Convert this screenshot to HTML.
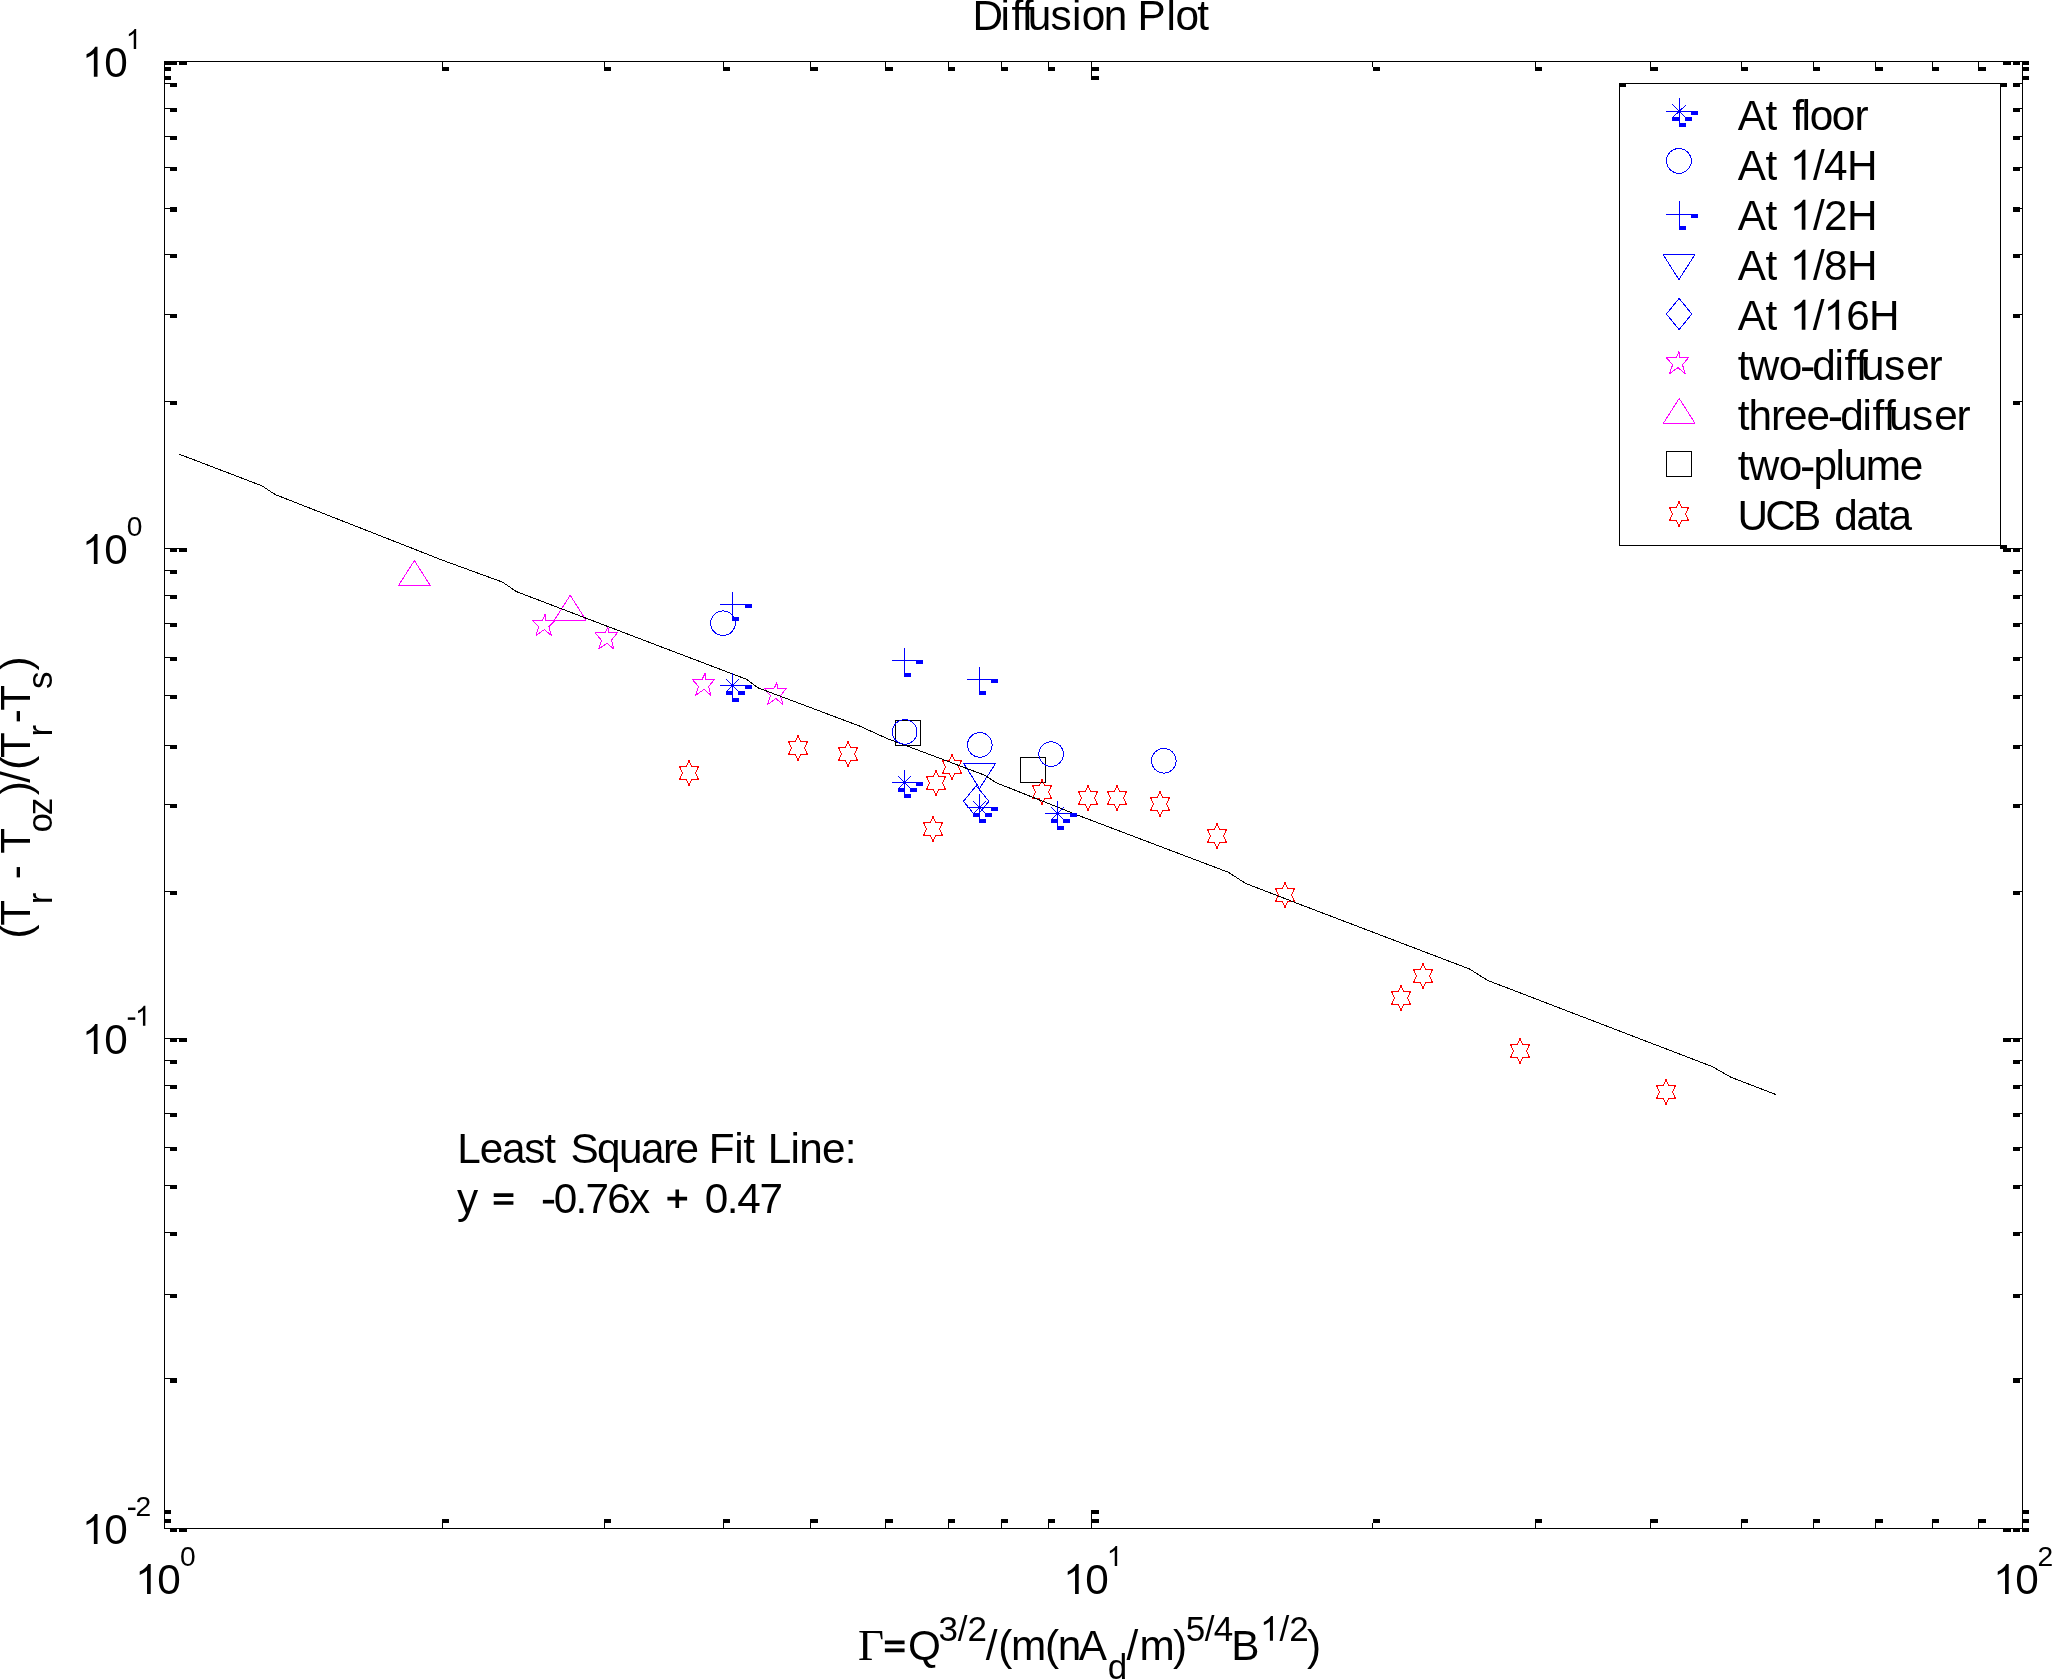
<!DOCTYPE html>
<html><head><meta charset="utf-8"><title>Diffusion Plot</title>
<style>
html,body{margin:0;padding:0;background:#fff;}
body{width:2052px;height:1679px;overflow:hidden;}
svg{display:block;will-change:transform;}
text{font-family:"Liberation Sans",sans-serif;fill:#000;font-kerning:none;font-variant-ligatures:none;white-space:pre;}
.c{shape-rendering:crispEdges;}
.l{fill:none;stroke-width:1;shape-rendering:crispEdges;stroke-linejoin:bevel;}
</style></head><body>
<svg width="2052" height="1679" viewBox="0 0 2052 1679">
<path class="l" stroke="#00f" d="M1672.5 104.5 L1685.5 117.5"/>
<path class="l" stroke="#00f" d="M1686.5 104.5 L1672.5 117.5"/>
<path class="l" stroke="#00f" d="M1678.9 279.6 L1695 254.5 L1663.1 254.5 Z"/>
<path class="l" stroke="#00f" d="M1679.1 298.4 L1691.8 314 L1679.1 329.6 L1666.4 314 Z"/>
<path class="l" stroke="#f0f" d="M1679 351.6 L1679.6 357.5 L1688.6 357.5 L1682.5 364.7 L1685.1 373.6 L1678 367.6 L1669.6 373.6 L1672.6 364.7 L1666.2 357.5 L1676.2 357.5 Z"/>
<path class="l" stroke="#f0f" d="M1679.2 398.4 L1695.1 423.4 L1663.3 423.4 Z"/>
<path class="l" stroke="#000" d="M1666.5 451.5 L1691.5 451.5 L1691.5 476.5 L1666.5 476.5 Z"/>
<path class="l" stroke="#f00" d="M1679 501.5 L1681.5 507.5 L1688.5 507.5 L1685.5 514 L1688.5 520.5 L1681.5 520.5 L1679 526.5 L1676.5 520.5 L1669.5 520.5 L1672.5 514 L1669.5 507.5 L1676.5 507.5 Z"/>
<path class="l" stroke="#00f" d="M726.5 679.5 L738.5 691.5"/>
<path class="l" stroke="#00f" d="M738.5 679.5 L726.5 691.5"/>
<path class="l" stroke="#00f" d="M898.5 776.5 L910.5 788.5"/>
<path class="l" stroke="#00f" d="M910.5 776.5 L898.5 788.5"/>
<path class="l" stroke="#00f" d="M973.5 801.5 L985.5 813.5"/>
<path class="l" stroke="#00f" d="M985.5 801.5 L973.5 813.5"/>
<path class="l" stroke="#00f" d="M1051.5 807.5 L1063.5 819.5"/>
<path class="l" stroke="#00f" d="M1063.5 807.5 L1051.5 819.5"/>
<path class="l" stroke="#00f" d="M979.5 788.5 L995.6 763.4 L963.7 763.4 Z"/>
<path class="l" stroke="#00f" d="M976.2 785.7 L988.9 801.3 L976.2 816.9 L963.5 801.3 Z"/>
<path class="l" stroke="#f0f" d="M545.3 613.6 L545.9 620.4 L554.9 620.4 L548.8 626.7 L551.4 635.6 L544.3 629.6 L535.9 635.6 L538.9 626.7 L532.5 620.4 L542.5 620.4 Z"/>
<path class="l" stroke="#f0f" d="M607.9 627.2 L608.5 632.7 L617.5 632.7 L611.4 640.3 L614 649.2 L606.9 643.2 L598.5 649.2 L601.5 640.3 L595.1 632.7 L605.1 632.7 Z"/>
<path class="l" stroke="#f0f" d="M705 673.4 L705.6 679.3 L714.6 679.3 L708.5 686.5 L711.1 695.4 L704 689.4 L695.6 695.4 L698.6 686.5 L692.2 679.3 L702.2 679.3 Z"/>
<path class="l" stroke="#f0f" d="M776.9 682.6 L777.5 688.2 L786.5 688.2 L780.4 695.7 L783 704.6 L775.9 698.6 L767.5 704.6 L770.5 695.7 L764.1 688.2 L774.1 688.2 Z"/>
<path class="l" stroke="#f0f" d="M414.4 560.6 L430.3 585.6 L398.5 585.6 Z"/>
<path class="l" stroke="#f0f" d="M570.2 595.3 L586.1 620.3 L554.3 620.3 Z"/>
<path class="l" stroke="#000" d="M895.5 720.5 L920.5 720.5 L920.5 745.5 L895.5 745.5 Z"/>
<path class="l" stroke="#000" d="M1020.5 757.5 L1045.5 757.5 L1045.5 782.5 L1020.5 782.5 Z"/>
<path class="l" stroke="#f00" d="M689 760.5 L691.5 766.5 L698.5 766.5 L695.5 773 L698.5 779.5 L691.5 779.5 L689 785.5 L686.5 779.5 L679.5 779.5 L682.5 773 L679.5 766.5 L686.5 766.5 Z"/>
<path class="l" stroke="#f00" d="M798 735.5 L800.5 741.5 L807.5 741.5 L804.5 748 L807.5 754.5 L800.5 754.5 L798 760.5 L795.5 754.5 L788.5 754.5 L791.5 748 L788.5 741.5 L795.5 741.5 Z"/>
<path class="l" stroke="#f00" d="M848 741.5 L850.5 747.5 L857.5 747.5 L854.5 754 L857.5 760.5 L850.5 760.5 L848 766.5 L845.5 760.5 L838.5 760.5 L841.5 754 L838.5 747.5 L845.5 747.5 Z"/>
<path class="l" stroke="#f00" d="M952 754.5 L954.5 760.5 L961.5 760.5 L958.5 767 L961.5 773.5 L954.5 773.5 L952 779.5 L949.5 773.5 L942.5 773.5 L945.5 767 L942.5 760.5 L949.5 760.5 Z"/>
<path class="l" stroke="#f00" d="M936 770.5 L938.5 776.5 L945.5 776.5 L942.5 783 L945.5 789.5 L938.5 789.5 L936 795.5 L933.5 789.5 L926.5 789.5 L929.5 783 L926.5 776.5 L933.5 776.5 Z"/>
<path class="l" stroke="#f00" d="M933 816.5 L935.5 822.5 L942.5 822.5 L939.5 829 L942.5 835.5 L935.5 835.5 L933 841.5 L930.5 835.5 L923.5 835.5 L926.5 829 L923.5 822.5 L930.5 822.5 Z"/>
<path class="l" stroke="#f00" d="M1042 779.5 L1044.5 785.5 L1051.5 785.5 L1048.5 792 L1051.5 798.5 L1044.5 798.5 L1042 804.5 L1039.5 798.5 L1032.5 798.5 L1035.5 792 L1032.5 785.5 L1039.5 785.5 Z"/>
<path class="l" stroke="#f00" d="M1088 785.5 L1090.5 791.5 L1097.5 791.5 L1094.5 798 L1097.5 804.5 L1090.5 804.5 L1088 810.5 L1085.5 804.5 L1078.5 804.5 L1081.5 798 L1078.5 791.5 L1085.5 791.5 Z"/>
<path class="l" stroke="#f00" d="M1117 785.5 L1119.5 791.5 L1126.5 791.5 L1123.5 798 L1126.5 804.5 L1119.5 804.5 L1117 810.5 L1114.5 804.5 L1107.5 804.5 L1110.5 798 L1107.5 791.5 L1114.5 791.5 Z"/>
<path class="l" stroke="#f00" d="M1160 791.5 L1162.5 797.5 L1169.5 797.5 L1166.5 804 L1169.5 810.5 L1162.5 810.5 L1160 816.5 L1157.5 810.5 L1150.5 810.5 L1153.5 804 L1150.5 797.5 L1157.5 797.5 Z"/>
<path class="l" stroke="#f00" d="M1217 823.5 L1219.5 829.5 L1226.5 829.5 L1223.5 836 L1226.5 842.5 L1219.5 842.5 L1217 848.5 L1214.5 842.5 L1207.5 842.5 L1210.5 836 L1207.5 829.5 L1214.5 829.5 Z"/>
<path class="l" stroke="#f00" d="M1285 882.5 L1287.5 888.5 L1294.5 888.5 L1291.5 895 L1294.5 901.5 L1287.5 901.5 L1285 907.5 L1282.5 901.5 L1275.5 901.5 L1278.5 895 L1275.5 888.5 L1282.5 888.5 Z"/>
<path class="l" stroke="#f00" d="M1423 963.5 L1425.5 969.5 L1432.5 969.5 L1429.5 976 L1432.5 982.5 L1425.5 982.5 L1423 988.5 L1420.5 982.5 L1413.5 982.5 L1416.5 976 L1413.5 969.5 L1420.5 969.5 Z"/>
<path class="l" stroke="#f00" d="M1401 985.5 L1403.5 991.5 L1410.5 991.5 L1407.5 998 L1410.5 1004.5 L1403.5 1004.5 L1401 1010.5 L1398.5 1004.5 L1391.5 1004.5 L1394.5 998 L1391.5 991.5 L1398.5 991.5 Z"/>
<path class="l" stroke="#f00" d="M1520 1038.5 L1522.5 1044.5 L1529.5 1044.5 L1526.5 1051 L1529.5 1057.5 L1522.5 1057.5 L1520 1063.5 L1517.5 1057.5 L1510.5 1057.5 L1513.5 1051 L1510.5 1044.5 L1517.5 1044.5 Z"/>
<path class="l" stroke="#f00" d="M1666 1079.5 L1668.5 1085.5 L1675.5 1085.5 L1672.5 1092 L1675.5 1098.5 L1668.5 1098.5 L1666 1104.5 L1663.5 1098.5 L1656.5 1098.5 L1659.5 1092 L1656.5 1085.5 L1663.5 1085.5 Z"/>
<path class="l" stroke="#000" d="M179 454.1 L261.9 485.8 L275.3 494.6 L415 549.4 L439.7 559.2 L502.5 582.1 L516.4 591.6 L660 646.4 L746.3 679.2 L757.9 687.8 L860 726.2 L887 738.5 L985.3 775.4 L995.8 782.6 L1077.3 815 L1228.4 872.3 L1245.4 883.3 L1300 904.4 L1469.3 968.9 L1487.6 980.4 L1711.8 1066.4 L1731.3 1077.4 L1775.6 1094.4"/>
<circle class="l" stroke="#00f" cx="1678.9" cy="160.9" r="12.4"/>
<circle class="l" stroke="#00f" cx="723" cy="623.2" r="12.3"/>
<circle class="l" stroke="#00f" cx="904.7" cy="731.9" r="12.3"/>
<circle class="l" stroke="#00f" cx="979.8" cy="744.9" r="12.3"/>
<circle class="l" stroke="#00f" cx="1051.1" cy="754.1" r="12.3"/>
<circle class="l" stroke="#00f" cx="1163.8" cy="760.8" r="12.3"/>
<path class="c" fill="#000" d="M164 61h1859v1h-1859zM164 1528h1859v1h-1859zM164 61h1v1468h-1zM2022 61h1v1468h-1zM164 61h7v4h-7zM2022 61h7v4h-7zM2022 1528h7v4h-7zM442 61h1v6h-1zM442 67h7v4h-7zM442 1523h1v6h-1zM442 1519h7v4h-7zM604 61h1v6h-1zM604 67h7v4h-7zM604 1523h1v6h-1zM604 1519h7v4h-7zM723 61h1v6h-1zM723 67h7v4h-7zM723 1523h1v6h-1zM723 1519h7v4h-7zM810 61h1v6h-1zM810 67h8v4h-8zM810 1523h1v6h-1zM810 1519h8v4h-8zM885 61h1v6h-1zM885 67h8v4h-8zM885 1523h1v6h-1zM885 1519h8v4h-8zM948 61h1v6h-1zM948 67h7v4h-7zM948 1523h1v6h-1zM948 1519h7v4h-7zM1001 61h1v6h-1zM1001 67h7v4h-7zM1001 1523h1v6h-1zM1001 1519h7v4h-7zM1048 61h1v6h-1zM1048 67h7v4h-7zM1048 1523h1v6h-1zM1048 1519h7v4h-7zM1091 61h1v6h-1zM1091 67h8v4h-8zM1091 1523h1v6h-1zM1091 1519h8v4h-8zM1372 61h1v6h-1zM1373 67h7v4h-7zM1372 1523h1v6h-1zM1373 1519h7v4h-7zM1535 61h1v6h-1zM1535 67h7v4h-7zM1535 1523h1v6h-1zM1535 1519h7v4h-7zM1650 61h1v6h-1zM1650 67h8v4h-8zM1650 1523h1v6h-1zM1650 1519h8v4h-8zM1741 61h1v6h-1zM1741 67h7v4h-7zM1741 1523h1v6h-1zM1741 1519h7v4h-7zM1813 61h1v6h-1zM1813 67h7v4h-7zM1813 1523h1v6h-1zM1813 1519h7v4h-7zM1875 61h1v6h-1zM1875 67h8v4h-8zM1875 1523h1v6h-1zM1875 1519h8v4h-8zM1932 61h1v6h-1zM1932 67h7v4h-7zM1932 1523h1v6h-1zM1932 1519h7v4h-7zM1978 61h1v6h-1zM1978 67h8v4h-8zM1978 1523h1v6h-1zM1978 1519h8v4h-8zM164 61h1v6h-1zM164 67h7v4h-7zM164 1523h1v6h-1zM164 1519h7v4h-7zM2022 61h1v6h-1zM2022 67h7v4h-7zM2022 1523h1v6h-1zM2022 1519h7v4h-7zM164 61h1v15h-1zM164 76h7v4h-7zM164 1514h1v15h-1zM164 1510h7v4h-7zM1091 61h1v15h-1zM1091 76h8v4h-8zM1091 1514h1v15h-1zM1091 1510h8v4h-8zM2022 61h1v15h-1zM2022 76h7v4h-7zM2022 1514h1v15h-1zM2022 1510h7v4h-7zM164 83h6v1h-6zM170 83h7v4h-7zM2020 83h3v1h-3zM2013 83h7v4h-7zM164 108h6v1h-6zM170 108h7v4h-7zM2020 108h3v1h-3zM2013 108h7v4h-7zM164 136h6v1h-6zM170 136h7v4h-7zM2020 136h3v1h-3zM2013 136h7v4h-7zM164 167h6v1h-6zM170 167h7v4h-7zM2020 167h3v1h-3zM2013 167h7v4h-7zM164 208h6v1h-6zM170 207h7v5h-7zM2020 208h3v1h-3zM2013 207h7v5h-7zM164 254h6v1h-6zM170 254h7v4h-7zM2020 254h3v1h-3zM2013 254h7v4h-7zM164 314h6v1h-6zM170 314h7v4h-7zM2020 314h3v1h-3zM2013 314h7v4h-7zM164 401h6v1h-6zM170 401h7v4h-7zM2020 401h3v1h-3zM2013 401h7v4h-7zM164 548h6v1h-6zM170 548h7v4h-7zM2020 548h3v1h-3zM2013 548h7v4h-7zM164 570h6v1h-6zM170 570h7v4h-7zM2020 570h3v1h-3zM2013 570h7v4h-7zM164 595h6v1h-6zM170 595h7v4h-7zM2020 595h3v1h-3zM2013 595h7v4h-7zM164 623h6v1h-6zM170 623h7v4h-7zM2020 623h3v1h-3zM2013 623h7v4h-7zM164 657h6v1h-6zM170 657h7v4h-7zM2020 657h3v1h-3zM2013 657h7v4h-7zM164 695h6v1h-6zM170 695h7v4h-7zM2020 695h3v1h-3zM2013 695h7v4h-7zM164 745h6v1h-6zM170 745h7v4h-7zM2020 745h3v1h-3zM2013 745h7v4h-7zM164 804h6v1h-6zM170 804h7v4h-7zM2020 804h3v1h-3zM2013 804h7v4h-7zM164 891h6v1h-6zM170 891h7v4h-7zM2020 891h3v1h-3zM2013 891h7v4h-7zM164 1038h6v1h-6zM170 1038h7v4h-7zM2020 1038h3v1h-3zM2013 1038h7v4h-7zM164 1060h6v1h-6zM170 1060h7v4h-7zM2020 1060h3v1h-3zM2013 1060h7v4h-7zM164 1085h6v1h-6zM170 1085h7v4h-7zM2020 1085h3v1h-3zM2013 1085h7v4h-7zM164 1113h6v1h-6zM170 1113h7v4h-7zM2020 1113h3v1h-3zM2013 1113h7v4h-7zM164 1147h6v1h-6zM170 1147h7v4h-7zM2020 1147h3v1h-3zM2013 1147h7v4h-7zM164 1185h6v1h-6zM170 1185h7v4h-7zM2020 1185h3v1h-3zM2013 1185h7v4h-7zM164 1232h6v1h-6zM170 1232h7v4h-7zM2020 1232h3v1h-3zM2013 1232h7v4h-7zM164 1294h6v1h-6zM170 1294h7v4h-7zM2020 1294h3v1h-3zM2013 1294h7v4h-7zM164 1378h6v1h-6zM170 1378h7v5h-7zM2020 1378h3v1h-3zM2013 1378h7v5h-7zM164 61h6v1h-6zM170 61h7v4h-7zM2020 61h3v1h-3zM2013 61h7v4h-7zM164 1528h6v1h-6zM170 1528h7v4h-7zM2020 1528h3v1h-3zM2013 1528h7v4h-7zM164 61h15v1h-15zM179 61h8v4h-8zM2011 61h12v1h-12zM2003 61h8v4h-8zM164 548h15v1h-15zM179 548h8v4h-8zM2011 548h12v1h-12zM2003 548h8v4h-8zM164 1038h15v1h-15zM179 1038h8v4h-8zM2011 1038h12v1h-12zM2003 1038h8v4h-8zM164 1528h15v1h-15zM179 1528h8v4h-8zM2011 1528h12v1h-12zM2003 1528h8v4h-8zM1619 83h382v1h-382zM1619 545h382v1h-382zM1619 83h1v463h-1zM2000 83h1v463h-1zM1619 83h7v4h-7zM2000 83h7v4h-7zM2000 545h7v4h-7z"/>
<path class="c" fill="#00f" d="M1679 98h1v25h-1zM1679 123h7v4h-7zM1666 111h25v1h-25zM1691 111h7v4h-7zM1685 117h7v4h-7zM1672 117h7v4h-7zM1679 201h1v25h-1zM1679 226h7v4h-7zM1666 214h25v1h-25zM1691 214h7v4h-7zM732 592h1v25h-1zM732 617h7v4h-7zM720 604h25v1h-25zM745 604h7v4h-7zM904 648h1v25h-1zM904 673h7v4h-7zM892 660h24v1h-24zM916 660h7v4h-7zM979 667h1v24h-1zM979 691h7v4h-7zM967 679h24v1h-24zM991 679h7v4h-7zM732 673h1v25h-1zM732 698h7v4h-7zM720 685h25v1h-25zM745 685h7v4h-7zM738 691h7v4h-7zM726 691h7v4h-7zM904 770h1v24h-1zM904 794h7v4h-7zM892 782h24v1h-24zM916 782h7v4h-7zM910 788h7v4h-7zM898 788h7v4h-7zM979 794h1v25h-1zM979 819h7v4h-7zM967 807h24v1h-24zM991 807h7v4h-7zM985 813h7v4h-7zM973 813h7v4h-7zM1057 801h1v25h-1zM1057 826h7v4h-7zM1045 813h25v1h-25zM1070 813h7v4h-7zM1063 819h7v4h-7zM1051 819h7v4h-7z"/>
<text x="972.43" y="29.6" style="font-size:42.3px;" xml:space="preserve">D</text>
<text x="1000.56" y="29.6" style="font-size:42.3px;" xml:space="preserve">i</text>
<text x="1011.4" y="29.6" style="font-size:42.3px;letter-spacing:-1.268px;" xml:space="preserve">ff</text>
<text x="1027.87" y="29.6" style="font-size:42.3px;" xml:space="preserve">u</text>
<text x="1050.6" y="29.6" style="font-size:42.3px;" xml:space="preserve">s</text>
<text x="1072.06" y="29.6" style="font-size:42.3px;" xml:space="preserve">i</text>
<text x="1081.79" y="29.6" style="font-size:42.3px;" xml:space="preserve">o</text>
<text x="1103.81" y="29.6" style="font-size:42.3px;" xml:space="preserve">n</text>
<text x="1137.57" y="29.6" style="font-size:42.3px;" xml:space="preserve">P</text>
<text x="1166.49" y="29.6" style="font-size:42.3px;" xml:space="preserve">l</text>
<text x="1175.54" y="29.6" style="font-size:42.3px;" xml:space="preserve">o</text>
<text x="1197.36" y="29.6" style="font-size:42.3px;" xml:space="preserve">t</text>
<path transform="translate(81.99 76.8) scale(0.02034 -0.02034)" d="M763 0H583V1147Q518 1085 412.5 1023T223 930V1104Q374 1175 487 1276T647 1472H763Z"/>
<text x="104.23" y="76.8" style="font-size:42.3px;letter-spacing:-1.292px;" xml:space="preserve">0</text>
<path transform="translate(81.99 563.9) scale(0.02034 -0.02034)" d="M763 0H583V1147Q518 1085 412.5 1023T223 930V1104Q374 1175 487 1276T647 1472H763Z"/>
<text x="104.23" y="563.9" style="font-size:42.3px;letter-spacing:-1.292px;" xml:space="preserve">0</text>
<path transform="translate(81.99 1053.9) scale(0.02034 -0.02034)" d="M763 0H583V1147Q518 1085 412.5 1023T223 930V1104Q374 1175 487 1276T647 1472H763Z"/>
<text x="104.23" y="1053.9" style="font-size:42.3px;letter-spacing:-1.292px;" xml:space="preserve">0</text>
<path transform="translate(81.99 1543.9) scale(0.02034 -0.02034)" d="M763 0H583V1147Q518 1085 412.5 1023T223 930V1104Q374 1175 487 1276T647 1472H763Z"/>
<text x="104.23" y="1543.9" style="font-size:42.3px;letter-spacing:-1.292px;" xml:space="preserve">0</text>
<path transform="translate(125.83 48.9) scale(0.01356 -0.01356)" d="M763 0H583V1147Q518 1085 412.5 1023T223 930V1104Q374 1175 487 1276T647 1472H763Z"/>
<text x="126.7" y="535.8" style="font-size:28.2px;" xml:space="preserve">0</text>
<path transform="translate(126.9 1025.8) scale(0.01356 -0.01356)" d="M65 440H618V621H65Z"/>
<path transform="translate(135.03 1025.8) scale(0.01356 -0.01356)" d="M763 0H583V1147Q518 1085 412.5 1023T223 930V1104Q374 1175 487 1276T647 1472H763Z"/>
<path transform="translate(127.1 1516) scale(0.01356 -0.01356)" d="M65 440H618V621H65Z"/>
<text x="135.58" y="1516" style="font-size:28.2px;" xml:space="preserve">2</text>
<path transform="translate(135.19 1593.9) scale(0.02034 -0.02034)" d="M763 0H583V1147Q518 1085 412.5 1023T223 930V1104Q374 1175 487 1276T647 1472H763Z"/>
<text x="157.23" y="1593.9" style="font-size:42.3px;letter-spacing:-1.492px;" xml:space="preserve">0</text>
<text x="179.9" y="1565.9" style="font-size:28.2px;" xml:space="preserve">0</text>
<path transform="translate(1063.19 1593.9) scale(0.02034 -0.02034)" d="M763 0H583V1147Q518 1085 412.5 1023T223 930V1104Q374 1175 487 1276T647 1472H763Z"/>
<text x="1085.23" y="1593.9" style="font-size:42.3px;letter-spacing:-1.492px;" xml:space="preserve">0</text>
<path transform="translate(1106.83 1565.9) scale(0.01356 -0.01356)" d="M763 0H583V1147Q518 1085 412.5 1023T223 930V1104Q374 1175 487 1276T647 1472H763Z"/>
<path transform="translate(1993.19 1593.9) scale(0.02034 -0.02034)" d="M763 0H583V1147Q518 1085 412.5 1023T223 930V1104Q374 1175 487 1276T647 1472H763Z"/>
<text x="2015.23" y="1593.9" style="font-size:42.3px;letter-spacing:-1.492px;" xml:space="preserve">0</text>
<text x="2037.48" y="1565.9" style="font-size:28.2px;" xml:space="preserve">2</text>
<text x="858.1" y="1659.8" style="font-size:45px;font-family:'Liberation Serif',serif;" xml:space="preserve">Γ</text>
<path transform="translate(882.55 1659.8) scale(0.02034 -0.02034)" d="M114 377H1082V555H114ZM114 766H1082V944H114Z"/>
<text x="907.9" y="1659.8" style="font-size:42.3px;" xml:space="preserve">Q</text>
<text x="938.47" y="1640.7" style="font-size:35px;letter-spacing:-0.131px;" xml:space="preserve">3/2</text>
<text x="985.7" y="1659.8" style="font-size:42.3px;" xml:space="preserve">/</text>
<text x="998.28" y="1659.8" style="font-size:42.3px;" xml:space="preserve">(</text>
<text x="1010.89" y="1659.8" style="font-size:42.3px;" xml:space="preserve">m</text>
<text x="1045.08" y="1659.8" style="font-size:42.3px;" xml:space="preserve">(</text>
<text x="1057.69" y="1659.8" style="font-size:42.3px;" xml:space="preserve">n</text>
<text x="1078.82" y="1659.8" style="font-size:42.3px;" xml:space="preserve">A</text>
<text x="1107.83" y="1678.5" style="font-size:35px;" xml:space="preserve">d</text>
<text x="1126.4" y="1659.8" style="font-size:42.3px;" xml:space="preserve">/</text>
<text x="1139.39" y="1659.8" style="font-size:42.3px;" xml:space="preserve">m</text>
<text x="1173.05" y="1659.8" style="font-size:42.3px;" xml:space="preserve">)</text>
<text x="1185.8" y="1640.7" style="font-size:35px;letter-spacing:-0.614px;" xml:space="preserve">5/4</text>
<text x="1231.23" y="1659.8" style="font-size:42.3px;" xml:space="preserve">B</text>
<path transform="translate(1260.09 1640.7) scale(0.01683 -0.01683)" d="M763 0H583V1147Q518 1085 412.5 1023T223 930V1104Q374 1175 487 1276T647 1472H763Z"/>
<text x="1279.51" y="1640.7" style="font-size:35px;letter-spacing:-0.042px;" xml:space="preserve">/2</text>
<text x="1306.95" y="1659.8" style="font-size:42.3px;" xml:space="preserve">)</text>
<text transform="translate(29.9 938.62) rotate(-90)" style="font-size:42.3px;" xml:space="preserve">(</text>
<text transform="translate(29.9 925.75) rotate(-90)" style="font-size:42.3px;" xml:space="preserve">T</text>
<text transform="translate(52.2 904.32) rotate(-90)" style="font-size:35px;" xml:space="preserve">r</text>
<text transform="translate(29.9 879.34) rotate(-90)" style="font-size:42.3px;" xml:space="preserve">-</text>
<text transform="translate(29.9 853.65) rotate(-90)" style="font-size:42.3px;" xml:space="preserve">T</text>
<text transform="translate(52.2 832.57) rotate(-90)" style="font-size:35px;" xml:space="preserve">o</text>
<text transform="translate(52.2 815.32) rotate(-90)" style="font-size:35px;" xml:space="preserve">z</text>
<text transform="translate(29.9 795.25) rotate(-90)" style="font-size:42.3px;" xml:space="preserve">)</text>
<text transform="translate(29.9 782.8) rotate(-90)" style="font-size:42.3px;" xml:space="preserve">/</text>
<text transform="translate(29.9 769.72) rotate(-90)" style="font-size:42.3px;" xml:space="preserve">(</text>
<text transform="translate(29.9 757.95) rotate(-90)" style="font-size:42.3px;" xml:space="preserve">T</text>
<text transform="translate(52.2 736.52) rotate(-90)" style="font-size:35px;" xml:space="preserve">r</text>
<text transform="translate(29.9 723.14) rotate(-90)" style="font-size:42.3px;" xml:space="preserve">-</text>
<text transform="translate(29.9 710.85) rotate(-90)" style="font-size:42.3px;" xml:space="preserve">T</text>
<text transform="translate(52.2 689.07) rotate(-90)" style="font-size:35px;" xml:space="preserve">s</text>
<text transform="translate(29.9 670.45) rotate(-90)" style="font-size:42.3px;" xml:space="preserve">)</text>
<text x="1737.82" y="129.8" style="font-size:42.3px;letter-spacing:-0.474px;" xml:space="preserve">At</text>
<text x="1737.82" y="179.7" style="font-size:42.3px;letter-spacing:-0.474px;" xml:space="preserve">At</text>
<path transform="translate(1789.89 179.7) scale(0.02034 -0.02034)" d="M763 0H583V1147Q518 1085 412.5 1023T223 930V1104Q374 1175 487 1276T647 1472H763Z"/>
<text x="1812.89" y="179.7" style="font-size:42.3px;letter-spacing:-0.532px;" xml:space="preserve">/4H</text>
<text x="1737.82" y="229.7" style="font-size:42.3px;letter-spacing:-0.474px;" xml:space="preserve">At</text>
<path transform="translate(1789.89 229.7) scale(0.02034 -0.02034)" d="M763 0H583V1147Q518 1085 412.5 1023T223 930V1104Q374 1175 487 1276T647 1472H763Z"/>
<text x="1812.89" y="229.7" style="font-size:42.3px;letter-spacing:-0.532px;" xml:space="preserve">/2H</text>
<text x="1737.82" y="279.7" style="font-size:42.3px;letter-spacing:-0.474px;" xml:space="preserve">At</text>
<path transform="translate(1789.89 279.7) scale(0.02034 -0.02034)" d="M763 0H583V1147Q518 1085 412.5 1023T223 930V1104Q374 1175 487 1276T647 1472H763Z"/>
<text x="1812.89" y="279.7" style="font-size:42.3px;letter-spacing:-0.532px;" xml:space="preserve">/8H</text>
<text x="1737.82" y="329.8" style="font-size:42.3px;letter-spacing:-0.474px;" xml:space="preserve">At</text>
<path transform="translate(1789.89 329.8) scale(0.02034 -0.02034)" d="M763 0H583V1147Q518 1085 412.5 1023T223 930V1104Q374 1175 487 1276T647 1472H763Z"/>
<text x="1812.64" y="329.8" style="font-size:42.3px;letter-spacing:-0.780px;" xml:space="preserve">/</text>
<path transform="translate(1823.61 329.8) scale(0.02034 -0.02034)" d="M763 0H583V1147Q518 1085 412.5 1023T223 930V1104Q374 1175 487 1276T647 1472H763Z"/>
<text x="1846.36" y="329.8" style="font-size:42.3px;letter-spacing:-0.780px;" xml:space="preserve">6H</text>
<text x="1737.66" y="380" style="font-size:42.3px;letter-spacing:-0.654px;" xml:space="preserve">two</text>
<path transform="translate(1800.76 380) scale(0.02034 -0.02034)" d="M65 440H618V621H65Z"/>
<text x="1737.66" y="430" style="font-size:42.3px;letter-spacing:-1.024px;" xml:space="preserve">three</text>
<path transform="translate(1828.56 430) scale(0.02034 -0.02034)" d="M65 440H618V621H65Z"/>
<text x="1737.66" y="480" style="font-size:42.3px;letter-spacing:-0.654px;" xml:space="preserve">two</text>
<path transform="translate(1800.76 480) scale(0.02034 -0.02034)" d="M65 440H618V621H65Z"/>
<text x="1813.47" y="480" style="font-size:42.3px;letter-spacing:-1.376px;" xml:space="preserve">plume</text>
<text x="1737.44" y="529.6" style="font-size:42.3px;letter-spacing:-2.758px;" xml:space="preserve">UCB</text>
<text x="1834.22" y="529.6" style="font-size:42.3px;letter-spacing:-1.484px;" xml:space="preserve">data</text>
<text x="1792.29" y="129.8" style="font-size:42.3px;" xml:space="preserve">f</text>
<text x="1801.44" y="129.8" style="font-size:42.3px;" xml:space="preserve">l</text>
<text x="1809.79" y="129.8" style="font-size:42.3px;" xml:space="preserve">o</text>
<text x="1831.74" y="129.8" style="font-size:42.3px;" xml:space="preserve">o</text>
<text x="1854.4" y="129.8" style="font-size:42.3px;" xml:space="preserve">r</text>
<text x="1812.26" y="380" style="font-size:42.3px;" xml:space="preserve">d</text>
<text x="1834.46" y="380" style="font-size:42.3px;" xml:space="preserve">i</text>
<text x="1844.5" y="380" style="font-size:42.3px;letter-spacing:-0.368px;" xml:space="preserve">ff</text>
<text x="1861.12" y="380" style="font-size:42.3px;" xml:space="preserve">u</text>
<text x="1884.05" y="380" style="font-size:42.3px;" xml:space="preserve">s</text>
<text x="1906.23" y="380" style="font-size:42.3px;" xml:space="preserve">e</text>
<text x="1928.55" y="380" style="font-size:42.3px;" xml:space="preserve">r</text>
<text x="1840.26" y="430" style="font-size:42.3px;" xml:space="preserve">d</text>
<text x="1862.46" y="430" style="font-size:42.3px;" xml:space="preserve">i</text>
<text x="1872.5" y="430" style="font-size:42.3px;letter-spacing:-0.368px;" xml:space="preserve">ff</text>
<text x="1889.12" y="430" style="font-size:42.3px;" xml:space="preserve">u</text>
<text x="1912.05" y="430" style="font-size:42.3px;" xml:space="preserve">s</text>
<text x="1934.23" y="430" style="font-size:42.3px;" xml:space="preserve">e</text>
<text x="1956.55" y="430" style="font-size:42.3px;" xml:space="preserve">r</text>
<text x="457.33" y="1162.6" style="font-size:42.3px;letter-spacing:-1.175px;" xml:space="preserve">Least</text>
<text x="570.38" y="1162.6" style="font-size:42.3px;letter-spacing:-1.560px;" xml:space="preserve">Square</text>
<text x="708.83" y="1162.6" style="font-size:42.3px;letter-spacing:-0.354px;" xml:space="preserve">Fit</text>
<text x="767.83" y="1162.6" style="font-size:42.3px;letter-spacing:-0.748px;" xml:space="preserve">Line:</text>
<text x="457.06" y="1212.5" style="font-size:42.3px;" xml:space="preserve">y</text>
<path transform="translate(491.4 1212.5) scale(0.02034 -0.02034)" d="M114 377H1082V555H114ZM114 766H1082V944H114Z"/>
<path transform="translate(541.56 1212.5) scale(0.02034 -0.02034)" d="M65 440H618V621H65Z"/>
<text x="553.85" y="1212.5" style="font-size:42.3px;letter-spacing:-1.793px;" xml:space="preserve">0.76x</text>
<path transform="translate(665.1 1212.5) scale(0.02034 -0.02034)" d="M114 591H509V226H687V591H1082V769H687V1135H509V769H114Z"/>
<text x="704.65" y="1212.5" style="font-size:42.3px;letter-spacing:-1.316px;" xml:space="preserve">0.47</text>
</svg>
</body></html>
